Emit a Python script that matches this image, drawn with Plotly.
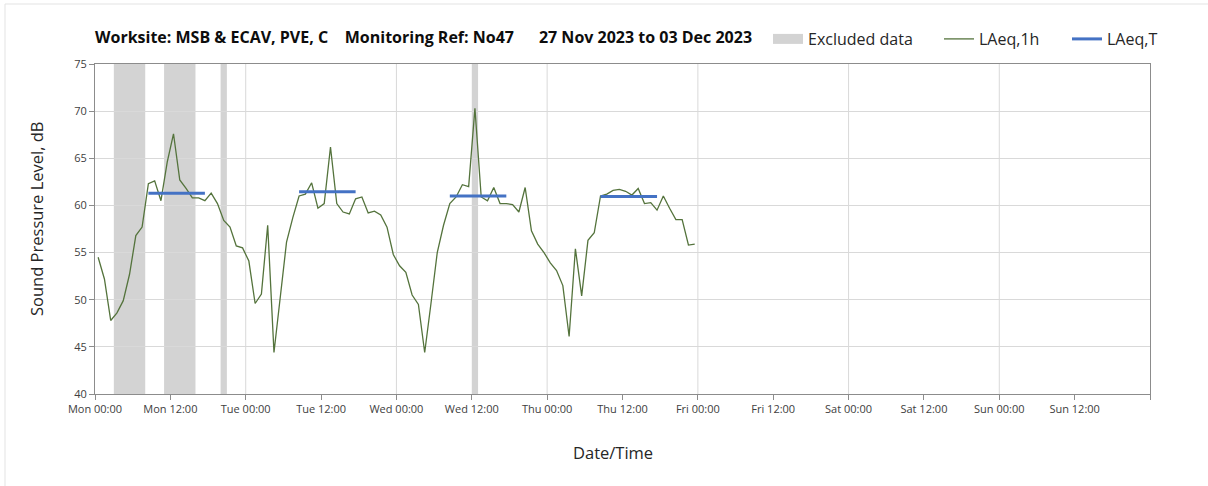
import plotly.graph_objects as go
import pandas as pd

# ---------------- data ----------------
start_time = "2023-11-27 00:30"   # first hourly value (plotted mid-hour)
laeq_1h = [
    54.5, 52.2, 47.8, 48.6, 49.9, 52.7, 56.8, 57.7, 62.3, 62.6, 60.5, 64.6,
    67.6, 62.7, 61.8, 60.8, 60.8, 60.5, 61.3, 60.2, 58.4, 57.7, 55.7, 55.5,
    54.1, 49.6, 50.6, 57.9, 44.4, 50.0, 56.1, 58.7, 61.0, 61.2, 62.4, 59.7,
    60.2, 66.2, 60.2, 59.3, 59.1, 60.7, 60.9, 59.2, 59.4, 59.0, 57.7, 54.8,
    53.6, 52.9, 50.5, 49.5, 44.4, 49.6, 55.0, 57.9, 60.2, 60.9, 62.2, 62.0,
    70.3, 60.9, 60.5, 61.9, 60.2, 60.2, 60.1, 59.3, 61.9, 57.3, 55.9, 55.0,
    53.9, 53.1, 51.5, 46.1, 55.4, 50.4, 56.3, 57.1, 61.0, 61.2, 61.6, 61.7,
    61.5, 61.1, 61.8, 60.2, 60.3, 59.5, 61.0, 59.7, 58.5, 58.5, 55.8, 55.9,
]

laeqT_start = ["2023-11-27 08:30", "2023-11-28 08:30", "2023-11-29 08:30", "2023-11-30 08:30"]
laeqT_end = ["2023-11-27 17:30", "2023-11-28 17:30", "2023-11-29 17:30", "2023-11-30 17:30"]
laeqT_val = [61.3, 61.45, 61.0, 60.95]

excl_start = ["2023-11-27 03:00", "2023-11-27 11:00", "2023-11-27 20:00", "2023-11-29 12:00"]
excl_end = ["2023-11-27 08:00", "2023-11-27 16:00", "2023-11-27 21:00", "2023-11-29 13:00"]

tick_vals = ["2023-11-27 00:00", "2023-11-27 12:00", "2023-11-28 00:00", "2023-11-28 12:00",
             "2023-11-29 00:00", "2023-11-29 12:00", "2023-11-30 00:00", "2023-11-30 12:00",
             "2023-12-01 00:00", "2023-12-01 12:00", "2023-12-02 00:00", "2023-12-02 12:00",
             "2023-12-03 00:00", "2023-12-03 12:00", "2023-12-04 00:00"]
tick_text = ["Mon 00:00", "Mon 12:00", "Tue 00:00", "Tue 12:00", "Wed 00:00", "Wed 12:00",
             "Thu 00:00", "Thu 12:00", "Fri 00:00", "Fri 12:00", "Sat 00:00", "Sat 12:00",
             "Sun 00:00", "Sun 12:00", ""]
day_lines = ["2023-11-28 00:00", "2023-11-29 00:00", "2023-11-30 00:00",
             "2023-12-01 00:00", "2023-12-02 00:00", "2023-12-03 00:00"]
x_range = ["2023-11-27 00:00", "2023-12-04 00:00"]

title_text = ("Worksite: MSB & ECAV, PVE, C\u00a0\u00a0\u00a0\u00a0Monitoring Ref: No47"
              "\u00a0\u00a0\u00a0\u00a0\u00a0\u00a027 Nov 2023 to 03 Dec 2023")

# ---------------- figure ----------------
FONT = "Open Sans"
W, H = 1208, 486
L, R, T, B = 95, 58, 64, 92
PW, PH = W - L - R, H - T - B
times = [str(t) for t in pd.date_range(start_time, periods=len(laeq_1h), freq="h")]

fig = go.Figure()

fig.add_trace(go.Scatter(
    x=[x_range[0]], y=[None], mode="lines", name="Excluded data",
    line=dict(color="#d3d3d3", width=10), legend="legend", hoverinfo="skip"))

fig.add_trace(go.Scatter(
    x=times, y=laeq_1h, mode="lines", name="LAeq,1h",
    line=dict(color="#54733c", width=1.3), legend="legend2"))

tx, ty = [], []
for s, e, v in zip(laeqT_start, laeqT_end, laeqT_val):
    tx += [s, e, None]
    ty += [v, v, None]
fig.add_trace(go.Scatter(
    x=tx, y=ty, mode="lines", name="LAeq,T",
    line=dict(color="#4472c4", width=3), legend="legend3"))

shapes = []
for s, e in zip(excl_start, excl_end):
    shapes.append(dict(type="rect", xref="x", yref="paper", x0=s, x1=e, y0=0, y1=1,
                       fillcolor="#d3d3d3", line=dict(width=0), layer="below"))
for d in day_lines:
    shapes.append(dict(type="line", xref="x", yref="paper", x0=d, x1=d, y0=0, y1=1,
                       line=dict(color="#d9d9d9", width=1), layer="below"))
# faint outer frame (top and left edges of the chart object)
fx = (5 - L) / PW
fy = (H - B - 4) / PH
shapes.append(dict(type="line", xref="paper", yref="paper", x0=fx, x1=1.2, y0=fy, y1=fy,
                   line=dict(color="#e3e3e3", width=1)))
shapes.append(dict(type="line", xref="paper", yref="paper", x0=fx, x1=fx, y0=fy, y1=-0.4,
                   line=dict(color="#e3e3e3", width=1)))

def px_x(p):
    return (p - L) / PW

def px_y(p):
    return (H - B - p) / PH

legend_common = dict(orientation="h", yanchor="middle", y=px_y(39), xanchor="left",
                     bgcolor="rgba(0,0,0,0)", font=dict(family=FONT, size=16, color="#262626"),
                     itemclick=False, itemdoubleclick=False)

fig.update_layout(
    width=W, height=H,
    margin=dict(l=L, r=R, t=T, b=B),
    paper_bgcolor="white", plot_bgcolor="white",
    font=dict(family=FONT, color="#262626"),
    title=dict(text="<b>" + title_text + "</b>", xref="container", yref="container",
               x=L / W, xanchor="left", y=1 - 37 / H, yanchor="middle",
               font=dict(family=FONT, size=16, color="#0d0d0d")),
    showlegend=True,
    legend=dict(x=px_x(768), **legend_common),
    legend2=dict(x=px_x(939), **legend_common),
    legend3=dict(x=px_x(1067), **legend_common),
    shapes=shapes,
    xaxis=dict(type="date", range=x_range, tickmode="array", tickvals=tick_vals,
               ticktext=tick_text,
               showgrid=False, showline=True, linecolor="#8c8c8c", linewidth=1,
               mirror=True, ticks="outside", ticklen=5, tickcolor="#8c8c8c",
               tickfont=dict(family=FONT, size=11, color="#404040"), zeroline=False),
    yaxis=dict(range=[40, 75], dtick=5, tick0=40, showgrid=True, gridcolor="#d9d9d9",
               showline=True, linecolor="#8c8c8c", linewidth=1, mirror=True,
               ticks="outside", ticklen=5, tickcolor="#8c8c8c",
               tickfont=dict(family=FONT, size=11, color="#404040"), zeroline=False),
    annotations=[
        dict(text="Date/Time", xref="paper", yref="paper", x=px_x(613), y=px_y(452),
             xanchor="center", yanchor="middle", showarrow=False,
             font=dict(family=FONT, size=16.5, color="#262626")),
        dict(text="Sound Pressure Level, dB", xref="paper", yref="paper", x=px_x(36),
             y=px_y(219), xanchor="center", yanchor="middle", textangle=-90, showarrow=False,
             font=dict(family=FONT, size=16.5, color="#262626")),
    ],
)

fig.write_html("out.html", config={"displayModeBar": False},
               post_script="document.body.style.margin='0';")
